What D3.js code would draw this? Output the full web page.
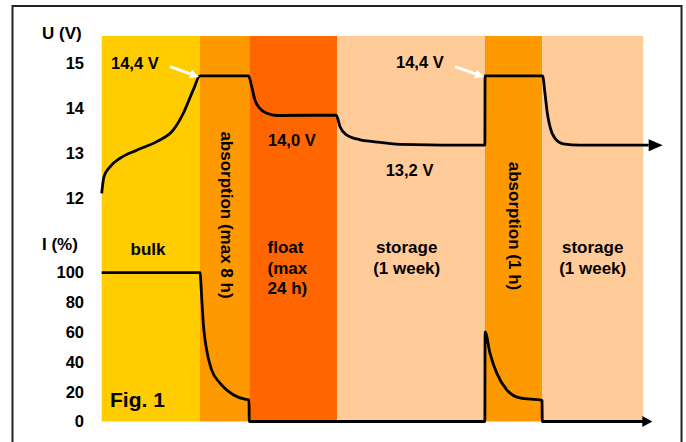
<!DOCTYPE html>
<html>
<head>
<meta charset="utf-8">
<script src="https://cdn.jsdelivr.net/npm/d3@7"></script>
<style>
  body { margin: 0; background: #fff; }
  text { font-family: 'Liberation Sans', Arial, sans-serif; font-weight: bold; fill: #000; }
</style>
</head>
<body>
<div id="chart"></div>
<script>
// Charging phases (time in arbitrary units, 0..100)
const phaseNames = ['bulk', 'absorption', 'float', 'storage', 'absorption', 'storage']
const phaseStart = [0, 18.15, 27.25, 43.5, 70.77, 81.35]
const phaseEnd = [18.15, 27.25, 43.5, 70.77, 81.35, 100]
const phaseColors = ['#FFCC00', '#FF9900', '#FF6600', '#FFCC99', '#FF9900', '#FFCC99']

// Voltage curve U (V)
const voltT = [0, 0.42, 1.53, 3.38, 6.46, 10.16, 13.22, 15.07, 16.91, 18.15,
  27.1, 27.7, 28.3, 29.2, 30.5, 32.3, 43.3,
  44.0, 45.2, 47.7, 50.1, 55.1, 70.75,
  70.79, 81.4, 81.85, 82.28, 82.77, 83.7, 85.2, 88.3, 101]
const voltV = [12.11, 12.48, 12.70, 12.89, 13.07, 13.26, 13.52, 13.89, 14.41, 14.72,
  14.72, 14.48, 14.18, 14.0, 13.89, 13.84, 13.85,
  13.59, 13.41, 13.3, 13.26, 13.2, 13.18,
  14.72, 14.72, 14.33, 13.89, 13.59, 13.33, 13.21, 13.18, 13.18]

// Current curve I (%)
const curT = [0, 18.15, 18.46, 18.76, 19.38, 20.3, 21.85, 24.3, 26.77, 27.2, 27.25,
  70.75, 70.79, 71.7, 72.94, 74.79, 77.24, 81.25, 81.3, 81.35, 100]
const curI = [100, 100, 83.5, 65.8, 48, 34.7, 25.8, 18, 14.7, 14.5, 0,
  0, 60.2, 45.8, 32.5, 21.3, 15.8, 14.2, 14, 0, 0]

const voltTicks = [12, 13, 14, 15]
const curTicks = [0, 20, 40, 60, 80, 100]

const width = 686
const height = 442

const svg = d3.select('#chart').append('svg')
  .attr('width', width)
  .attr('height', height)

const xScale = d3.scaleLinear().domain([0, 100]).range([101.7, 643.3])
const yU = d3.scaleLinear().domain([12, 15]).range([198.3, 63.3])
const yI = d3.scaleLinear().domain([0, 100]).range([421.5, 272.7])
const bandTop = 36

// frame
svg.append('rect')
  .attr('x', 12.5).attr('y', 6)
  .attr('width', 669).attr('height', 460)
  .attr('fill', 'none')
  .attr('stroke', '#222')
  .attr('stroke-width', 2)

// phase bands
svg.selectAll('.band')
  .data(phaseNames.map((n, i) => ({ name: n, s: phaseStart[i], e: phaseEnd[i], c: phaseColors[i] })))
  .enter()
  .append('rect')
  .attr('class', 'band')
  .attr('x', d => xScale(d.s))
  .attr('y', bandTop)
  .attr('width', d => xScale(d.e) - xScale(d.s))
  .attr('height', yI(0) - bandTop)
  .attr('fill', d => d.c)

// axes (labels only)
const axU = svg.append('g')
  .attr('transform', 'translate(87,0)')
  .call(d3.axisLeft(yU).tickValues(voltTicks).tickSize(0).tickPadding(3).tickFormat(d3.format('d')))
const axI = svg.append('g')
  .attr('transform', 'translate(87,0)')
  .call(d3.axisLeft(yI).tickValues(curTicks).tickSize(0).tickPadding(3).tickFormat(d3.format('d')))
svg.selectAll('.domain').remove()
svg.selectAll('.tick text')
  .style('font-family', "'Liberation Sans', Arial, sans-serif")
  .style('font-weight', 'bold')
  .style('font-size', '16.5px')
  .attr('fill', '#000')

svg.append('text').attr('x', 42).attr('y', 39).style('font-size', '17px').text('U (V)')
svg.append('text').attr('x', 42).attr('y', 249.5).style('font-size', '17px').text('I (%)')

// curves
const lineU = d3.line()
  .curve(d3.curveMonotoneX)
  .x((d, i) => xScale(voltT[i]))
  .y(d => yU(d))
const lineI = d3.line()
  .curve(d3.curveMonotoneX)
  .x((d, i) => xScale(curT[i]))
  .y(d => yI(d))

svg.append('path')
  .attr('d', lineU(voltV))
  .attr('fill', 'none')
  .attr('stroke', '#000')
  .attr('stroke-width', 2.8)
  .attr('stroke-linejoin', 'round')

svg.append('path')
  .attr('d', lineI(curI))
  .attr('fill', 'none')
  .attr('stroke', '#000')
  .attr('stroke-width', 2.8)
  .attr('stroke-linejoin', 'round')

// arrow heads at the ends of the curves
function arrowHead(x, y, len, half) {
  svg.append('path')
    .attr('d', `M${x},${y - half}L${x + len},${y}L${x},${y + half}Z`)
    .attr('fill', '#000')
}
arrowHead(xScale(voltT[voltT.length - 1]), yU(voltV[voltV.length - 1]), 14, 6)
arrowHead(xScale(curT[curT.length - 1]) - 1, yI(curI[curI.length - 1]), 10, 5.5)

// phase labels
const labelSize = '17px'
svg.append('text').attr('x', 148).attr('y', 255).attr('text-anchor', 'middle').style('font-size', labelSize).text('bulk')

const floatLines = ['float', '(max', '24 h)']
svg.selectAll('.floatLbl').data(floatLines).enter().append('text')
  .attr('x', 267.5).attr('y', (d, i) => 253.3 + i * 20.5)
  .style('font-size', labelSize).text(d => d)

const storeLines = ['storage', '(1 week)']
;[406.7, 592.7].forEach(cx => {
  svg.selectAll(null).data(storeLines).enter().append('text')
    .attr('x', cx).attr('y', (d, i) => 253.3 + i * 20.5)
    .attr('text-anchor', 'middle')
    .style('font-size', labelSize).text(d => d)
})

svg.append('text')
  .attr('transform', 'translate(226,215) rotate(90)')
  .attr('text-anchor', 'middle')
  .attr('dominant-baseline', 'central')
  .style('font-size', labelSize)
  .text('absorption (max 8 h)')
svg.append('text')
  .attr('transform', 'translate(514,226) rotate(90)')
  .attr('text-anchor', 'middle')
  .attr('dominant-baseline', 'central')
  .style('font-size', labelSize)
  .text('absorption (1 h)')

// voltage value labels
const valSize = '16.5px'
svg.append('text').attr('x', 111).attr('y', 68.5).style('font-size', valSize).text('14,4 V')
svg.append('text').attr('x', 396).attr('y', 68).style('font-size', valSize).text('14,4 V')
svg.append('text').attr('x', 268).attr('y', 145.7).style('font-size', valSize).text('14,0 V')
svg.append('text').attr('x', 385.7).attr('y', 175.7).style('font-size', valSize).text('13,2 V')

// white pointer arrows
function whiteArrow(x1, y1, x2, y2) {
  const a = Math.atan2(y2 - y1, x2 - x1)
  const L = 9, H = 4.5
  const bx = x2 - L * Math.cos(a), by = y2 - L * Math.sin(a)
  svg.append('line')
    .attr('x1', x1).attr('y1', y1).attr('x2', bx).attr('y2', by)
    .attr('stroke', '#fff').attr('stroke-width', 3)
  svg.append('path')
    .attr('d', `M${x2},${y2}L${bx + H * Math.sin(a)},${by - H * Math.cos(a)}L${bx - H * Math.sin(a)},${by + H * Math.cos(a)}Z`)
    .attr('fill', '#fff')
}
whiteArrow(170, 66.7, xScale(phaseStart[1]) - 1, yU(voltV[9]) + 1)
whiteArrow(455, 66.7, xScale(phaseStart[4]) - 1, yU(voltV[23]) + 1)

svg.append('text').attr('x', 110).attr('y', 406.7).style('font-size', '21px').text('Fig. 1')
</script>
</body>
</html>
